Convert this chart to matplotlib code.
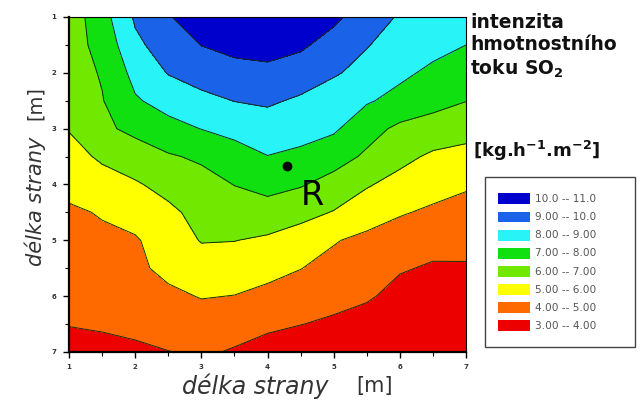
import matplotlib.pyplot as plt
import numpy as np
from matplotlib.patches import Rectangle

plt.rcParams['font.family'] = ['DejaVu Sans']

# grid of the measured field, x and y in metres
x_m = [1.0, 1.5, 2.0, 2.5, 3.0, 3.5, 4.0, 4.5, 5.0, 5.5, 6.0, 6.5, 7.0]
y_m = [1.0, 1.5, 2.0, 2.5, 3.0, 3.5, 4.0, 4.5, 5.0, 5.5, 6.0, 6.5, 7.0]

# SO2 mass flux intensity [kg/h/m2], one row per y value
flux = [
    [6.45, 7.6, 9.13, 9.95, 10.4, 10.7, 10.8, 10.6, 10.2, 9.5, 8.9, 8.7, 8.5],
    [6.6, 7.3, 8.8, 9.45, 10.02, 10.3, 10.4, 10.15, 9.63, 9.05, 8.6, 8.3, 8.0],
    [6.55, 7.08, 8.3, 9.05, 9.4, 9.65, 9.75, 9.55, 9.1, 8.7, 8.2, 7.8, 7.5],
    [6.5, 6.95, 7.9, 8.35, 8.75, 9.02, 9.15, 8.85, 8.5, 8.1, 7.7, 7.35, 7.02],
    [6.05, 6.8, 7.25, 7.7, 8.02, 8.35, 8.5, 8.35, 8.15, 7.35, 6.8, 6.55, 6.35],
    [5.65, 6.15, 6.5, 6.9, 7.15, 7.5, 7.98, 7.8, 7.4, 6.85, 6.25, 5.85, 5.7],
    [5.3, 5.6, 5.9, 6.3, 6.65, 7.02, 7.3, 7.08, 6.65, 6.08, 5.7, 5.35, 5.12],
    [4.85, 5.07, 5.4, 5.8, 6.3, 6.55, 6.6, 6.3, 5.95, 5.5, 5.08, 4.85, 4.65],
    [4.7, 4.82, 4.9, 5.5, 6.05, 6.02, 5.85, 5.55, 5.07, 4.75, 4.55, 4.3, 4.25],
    [4.55, 4.65, 4.8, 5.25, 5.55, 5.5, 5.3, 5.02, 4.7, 4.4, 4.08, 3.9, 3.92],
    [4.28, 4.35, 4.45, 4.8, 5.05, 4.98, 4.75, 4.55, 4.3, 4.12, 3.7, 3.5, 3.5],
    [4.03, 4.1, 4.2, 4.4, 4.55, 4.45, 4.2, 4.02, 3.85, 3.6, 3.35, 3.2, 3.15],
    [3.7, 3.75, 3.85, 3.98, 4.15, 3.9, 3.6, 3.45, 3.3, 3.15, 3.05, 3.0, 3.0],
]

levels = [3, 4, 5, 6, 7, 8, 9, 10, 11]
band_colors = ['#ec0000', '#ff6a00', '#ffff00', '#70e800',
               '#10e010', '#28f4f8', '#1a62e8', '#0000cc']
band_labels = ['3.00 -- 4.00', '4.00 -- 5.00', '5.00 -- 6.00', '6.00 -- 7.00',
               '7.00 -- 8.00', '8.00 -- 9.00', '9.00 -- 10.0', '10.0 -- 11.0']

point_r = (4.29, 3.67)

fig = plt.figure(figsize=(6.42, 4.03), dpi=100)
ax = fig.add_axes([0.1075, 0.1266, 0.6185, 0.8313])

X, Y = np.meshgrid(x_m, y_m)
Z = np.array(flux)
ax.contourf(X, Y, Z, levels=levels, colors=band_colors)
ax.contour(X, Y, Z, levels=levels[1:-1], colors='#1a2a10', linewidths=0.7)

ax.plot(*point_r, 'o', color='black', markersize=6)
ax.text(point_r[0] + 0.38, point_r[1] + 0.52, 'R', fontsize=24,
        ha='center', va='center', color='black')

ax.set_xlim(1, 7)
ax.set_ylim(7, 1)
ax.set_xticks(range(1, 8))
ax.set_yticks(range(1, 8))
ax.set_xticks(np.arange(1.5, 7, 1), minor=True)
ax.set_yticks(np.arange(1.5, 7, 1), minor=True)
ax.tick_params(which='major', direction='out', length=4, width=1,
               labelsize=5, pad=5, labelcolor='#333333')
ax.tick_params(which='minor', direction='out', length=3, width=0.8)
for lab in ax.get_xticklabels() + ax.get_yticklabels():
    lab.set_fontweight('bold')
for sp in ax.spines.values():
    sp.set_linewidth(0.8)
ax.spines['left'].set_linewidth(1.6)
ax.spines['bottom'].set_linewidth(1.6)

# axis titles, italic name and upright unit
fig.text(0.398, 0.042, 'délka strany', fontsize=17, style='italic',
         color='#333333', ha='center', va='center')
fig.text(0.584, 0.042, '[m]', fontsize=15, color='#333333',
         ha='center', va='center')
fig.text(0.055, 0.50, 'délka strany', fontsize=15, style='italic',
         color='#333333', ha='center', va='center', rotation=90)
fig.text(0.055, 0.745, '[m]', fontsize=14, color='#333333',
         ha='center', va='center', rotation=90)

# title block on the right
fig.text(0.732, 0.945, 'intenzita', fontsize=13.5, fontweight='bold',
         color='#111111', ha='left', va='center')
fig.text(0.732, 0.89, 'hmotnostního', fontsize=13.5, fontweight='bold',
         color='#111111', ha='left', va='center')
fig.text(0.732, 0.83, r'toku SO$_\mathbf{2}$', fontsize=13.5, fontweight='bold',
         color='#111111', ha='left', va='center')
fig.text(0.736, 0.625, r'[kg.h$^{\mathbf{-1}}$.m$^{\mathbf{-2}}$]', fontsize=13,
         fontweight='bold', color='#111111', ha='left', va='center')

# legend box
fig.patches.append(Rectangle((0.756, 0.139), 0.233, 0.423, transform=fig.transFigure,
                             fill=False, edgecolor='#444444', linewidth=1.0))
row_y = 0.506
for col, lab in zip(band_colors[::-1], band_labels[::-1]):
    fig.patches.append(Rectangle((0.776, row_y - 0.013), 0.05, 0.027,
                                 transform=fig.transFigure, facecolor=col,
                                 edgecolor='none'))
    fig.text(0.834, row_y, lab, fontsize=7.6, color='#555555',
             ha='left', va='center')
    row_y -= 0.045

fig.savefig('out.png', dpi=100)
